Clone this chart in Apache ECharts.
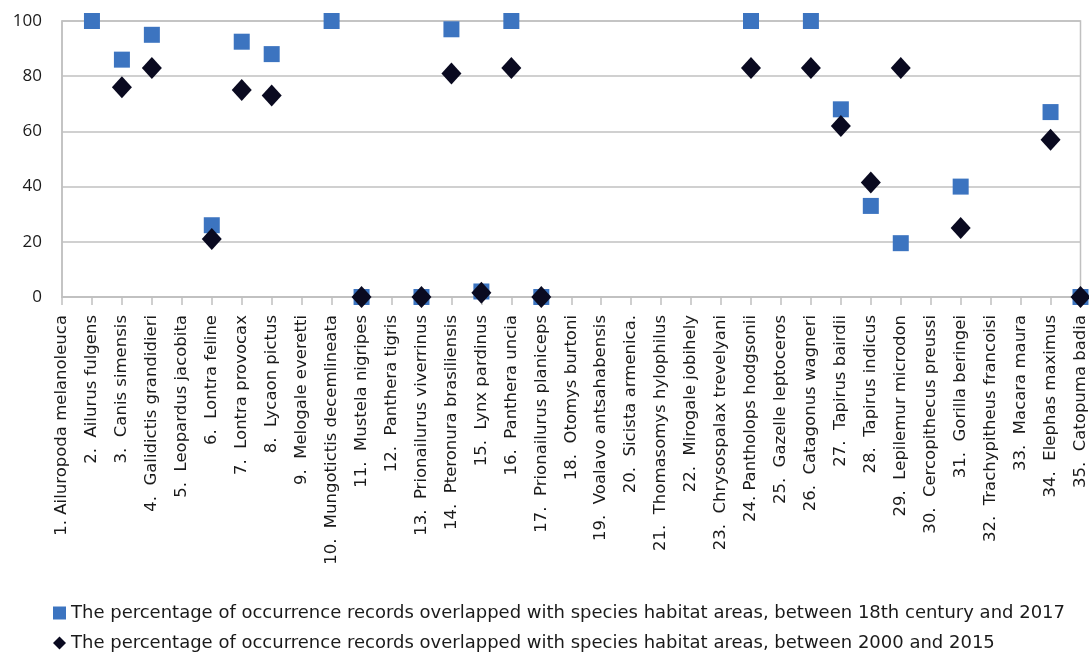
<!DOCTYPE html>
<html><head><meta charset="utf-8">
<script src="https://cdn.jsdelivr.net/npm/echarts@6/dist/echarts.min.js"></script>
<style>html,body{margin:0;padding:0;background:#fff}#c{width:1089px;height:655px}</style>
</head><body><div id="c"></div>
<script>
const categories = [
  "1. Ailuropoda melanoleuca","2.  Ailurus fulgens","3.  Canis simensis","4.  Galidictis grandidieri",
  "5.  Leopardus jacobita","6.  Lontra feline","7.  Lontra provocax","8.  Lycaon pictus",
  "9.  Melogale everetti","10.  Mungotictis decemlineata","11.  Mustela nigripes","12.  Panthera tigris",
  "13.  Prionailurus viverrinus","14.  Pteronura brasiliensis","15.  Lynx pardinus","16.  Panthera uncia",
  "17.  Prionailurus planiceps","18.  Otomys burtoni","19.  Voalavo antsahabensis","20.  Sicista armenica.",
  "21.  Thomasomys hylophilus","22.  Mirogale jobihely","23.  Chrysospalax trevelyani","24. Pantholops hodgsonii",
  "25.  Gazelle leptoceros","26.  Catagonus wagneri","27.  Tapirus bairdii","28.  Tapirus indicus",
  "29.  Lepilemur microdon","30.  Cercopithecus preussi","31.  Gorilla beringei","32.  Trachypitheus francoisi",
  "33.  Macara maura","34.  Elephas maximus","35.  Catopuma badia"
];
const series1Name = "The percentage of occurrence records overlapped with species habitat areas, between 18th century and 2017";
const series2Name = "The percentage of occurrence records overlapped with species habitat areas, between 2000 and 2015";
const values1800 = [null,100,86,95,null,26,92.5,88,null,100,0,null,0,97,2,100,0,null,null,null,null,null,null,100,null,100,68,33,19.5,null,40,null,null,67,0];
const values2000 = [null,null,76,83,null,21,75,73,null,null,0,null,0,81,1.5,83,0,null,null,null,null,null,null,83,null,83,62,41.5,83,null,25,null,null,57,0];
const yTicks = [0,20,40,60,80,100];

const chart = echarts.init(document.getElementById('c'));
const font = "'DejaVu Sans', sans-serif";
const legendBase = {orient:'horizontal',left:48,itemWidth:13,itemHeight:13,
  textStyle:{fontSize:18,color:'#1a1a1a',fontFamily:font}};
chart.setOption({
  animation:false,
  grid:{left:62,right:7,top:21,bottom:358,show:true,borderColor:'#c0c0c0',borderWidth:1.5},
  xAxis:{type:'category',data:categories,boundaryGap:false,
    axisLine:{lineStyle:{color:'#c0c0c0',width:1.5}},
    axisTick:{show:true,interval:0,length:8,lineStyle:{color:'#c0c0c0',width:1.5}},
    axisLabel:{interval:0,rotate:90,fontSize:16.5,color:'#1a1a1a',fontFamily:font,margin:18},
    splitLine:{show:false}},
  yAxis:{type:'value',min:yTicks[0],max:yTicks[yTicks.length-1],interval:20,
    axisLine:{show:true,lineStyle:{color:'#c0c0c0',width:1.5}},
    axisTick:{show:false},
    axisLabel:{fontSize:17,color:'#1a1a1a',fontFamily:"'Open Sans', sans-serif",margin:20},
    splitLine:{lineStyle:{color:'#c0c0c0',width:1.5}}},
  legend:[
    Object.assign({top:599,data:[{name:series1Name,icon:'rect'}]},legendBase),
    Object.assign({top:629,data:[{name:series2Name,icon:'diamond'}]},legendBase)
  ],
  series:[
    {name:series1Name,type:'scatter',data:values1800,symbol:'rect',symbolSize:16,
     itemStyle:{color:'#3c74c0',opacity:1},z:2},
    {name:series2Name,type:'scatter',data:values2000,symbol:'diamond',symbolSize:[20,22],
     itemStyle:{color:'#0a0a20',opacity:1},z:3}
  ]
});
</script></body></html>
